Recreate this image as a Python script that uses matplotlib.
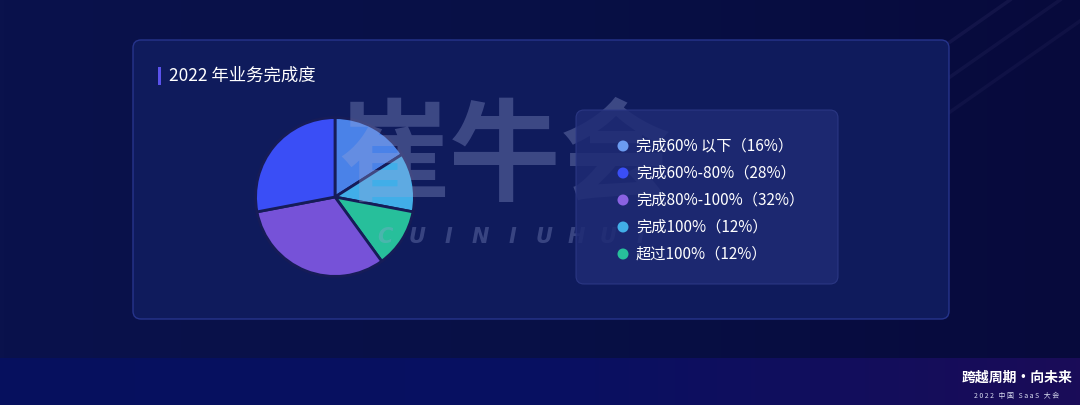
import matplotlib.pyplot as plt
from matplotlib.colors import LinearSegmentedColormap
from matplotlib.patches import FancyBboxPatch, Rectangle, Circle
import numpy as np

plt.rcParams['font.family'] = ['Noto Sans CJK SC', 'DejaVu Sans']

TITLE = "2022 年业务完成度"
# pie order, clockwise from 12 o'clock
slice_labels = ["完成60% 以下", "完成100%", "超过100%", "完成80%-100%", "完成60%-80%"]
slice_values = [16, 12, 12, 32, 28]
slice_colors = ["#4a82e8", "#41aee8", "#27bf9b", "#7652d8", "#3a4ef6"]

# legend order
legend_labels = ["完成60% 以下（16%）", "完成60%-80%（28%）", "完成80%-100%（32%）",
                 "完成100%（12%）", "超过100%（12%）"]
legend_colors = ["#6b9bf0", "#3a4ef6", "#8a62e2", "#41aee8", "#27bf9b"]

W, H = 1080, 405
fig = plt.figure(figsize=(W / 100, H / 100), dpi=100)
fig.patch.set_facecolor("#090f45")


def pixel_axes(z):
    ax = fig.add_axes([0, 0, 1, 1])
    ax.set_xlim(0, W)
    ax.set_ylim(H, 0)
    ax.axis("off")
    ax.set_zorder(z)
    ax.patch.set_alpha(0)
    return ax


bg = pixel_axes(0)

# background gradient
grad = np.linspace(0, 1, 256).reshape(1, -1)
bg.imshow(grad, extent=[0, W, 358, 0], aspect="auto", zorder=0,
          cmap=LinearSegmentedColormap.from_list("bgc", ["#0a124c", "#081046", "#070a3c"]))
bg.imshow(grad, extent=[0, W, H, 358], aspect="auto", zorder=0,
          cmap=LinearSegmentedColormap.from_list("strip", ["#06105e", "#081062", "#1a0c58"]))
bg.set_xlim(0, W)
bg.set_ylim(H, 0)

# faint diagonal light streaks, top right
for x0, a in [(1010, 0.07), (1060, 0.06), (1110, 0.05)]:
    bg.plot([x0, x0 - 200], [0, 140], color="#a898e0", alpha=a, lw=2.5, zorder=1)

# main panel
bg.add_patch(FancyBboxPatch((133, 40), 816, 279, boxstyle="round,pad=0,rounding_size=8",
                            facecolor="#0f1b5c", edgecolor="#26348c", lw=1, zorder=2))

# title
bg.add_patch(Rectangle((158, 67), 3, 18, facecolor="#5a52ec", edgecolor="none", zorder=3))
bg.text(169, 76, TITLE, color="white", fontsize=12.5, va="center", ha="left", zorder=3)

# bottom right logo
bg.text(1017, 378, "跨越周期·向未来", color="white", fontsize=10, fontweight="bold",
        ha="center", va="center", zorder=3)
bg.text(1017, 396, "2 0 2 2   中 国   S a a S   大 会", color="#d8dcf0", fontsize=5,
        ha="center", va="center", zorder=3)

# pie
cx, cy, r = 335, 197, 81
pax = fig.add_axes([(cx - r) / W, (H - cy - r) / H, 2 * r / W, 2 * r / H])
pax.pie(slice_values, colors=slice_colors, startangle=90, counterclock=False,
        wedgeprops=dict(edgecolor="#161c58", linewidth=2))
pax.set_xlim(-1.02, 1.02)
pax.set_ylim(-1.02, 1.02)
pax.set_zorder(5)
pax.set_facecolor("none")

# overlay: watermark, then legend box above it
ov = pixel_axes(6)
ov.text(505, 160, "崔牛会", color="#9aa4d8", alpha=0.33, fontsize=80, fontweight="bold",
        style="italic", ha="center", va="center", zorder=1)
for ch, x in zip("CUINIUHUI", np.linspace(385, 640, 9)):
    ov.text(x, 237, ch, color="#9aa4d8", alpha=0.3, fontsize=15, fontweight="bold",
            style="italic", ha="center", va="center", zorder=1, family=["DejaVu Sans"])

ov.add_patch(FancyBboxPatch((576, 110), 262, 174, boxstyle="round,pad=0,rounding_size=8",
                            facecolor="#1f2b74", edgecolor="#2e3a88", lw=0.8, alpha=0.85, zorder=2))
for i, (lab, col) in enumerate(zip(legend_labels, legend_colors)):
    y = 146 + i * 27
    ov.add_patch(Circle((623, y), 5.5, facecolor=col, edgecolor="none", zorder=3))
    ov.text(636, y, lab, color="white", fontsize=11, va="center", ha="left", zorder=3)

fig.savefig("out.png", dpi=100, facecolor=fig.get_facecolor())
